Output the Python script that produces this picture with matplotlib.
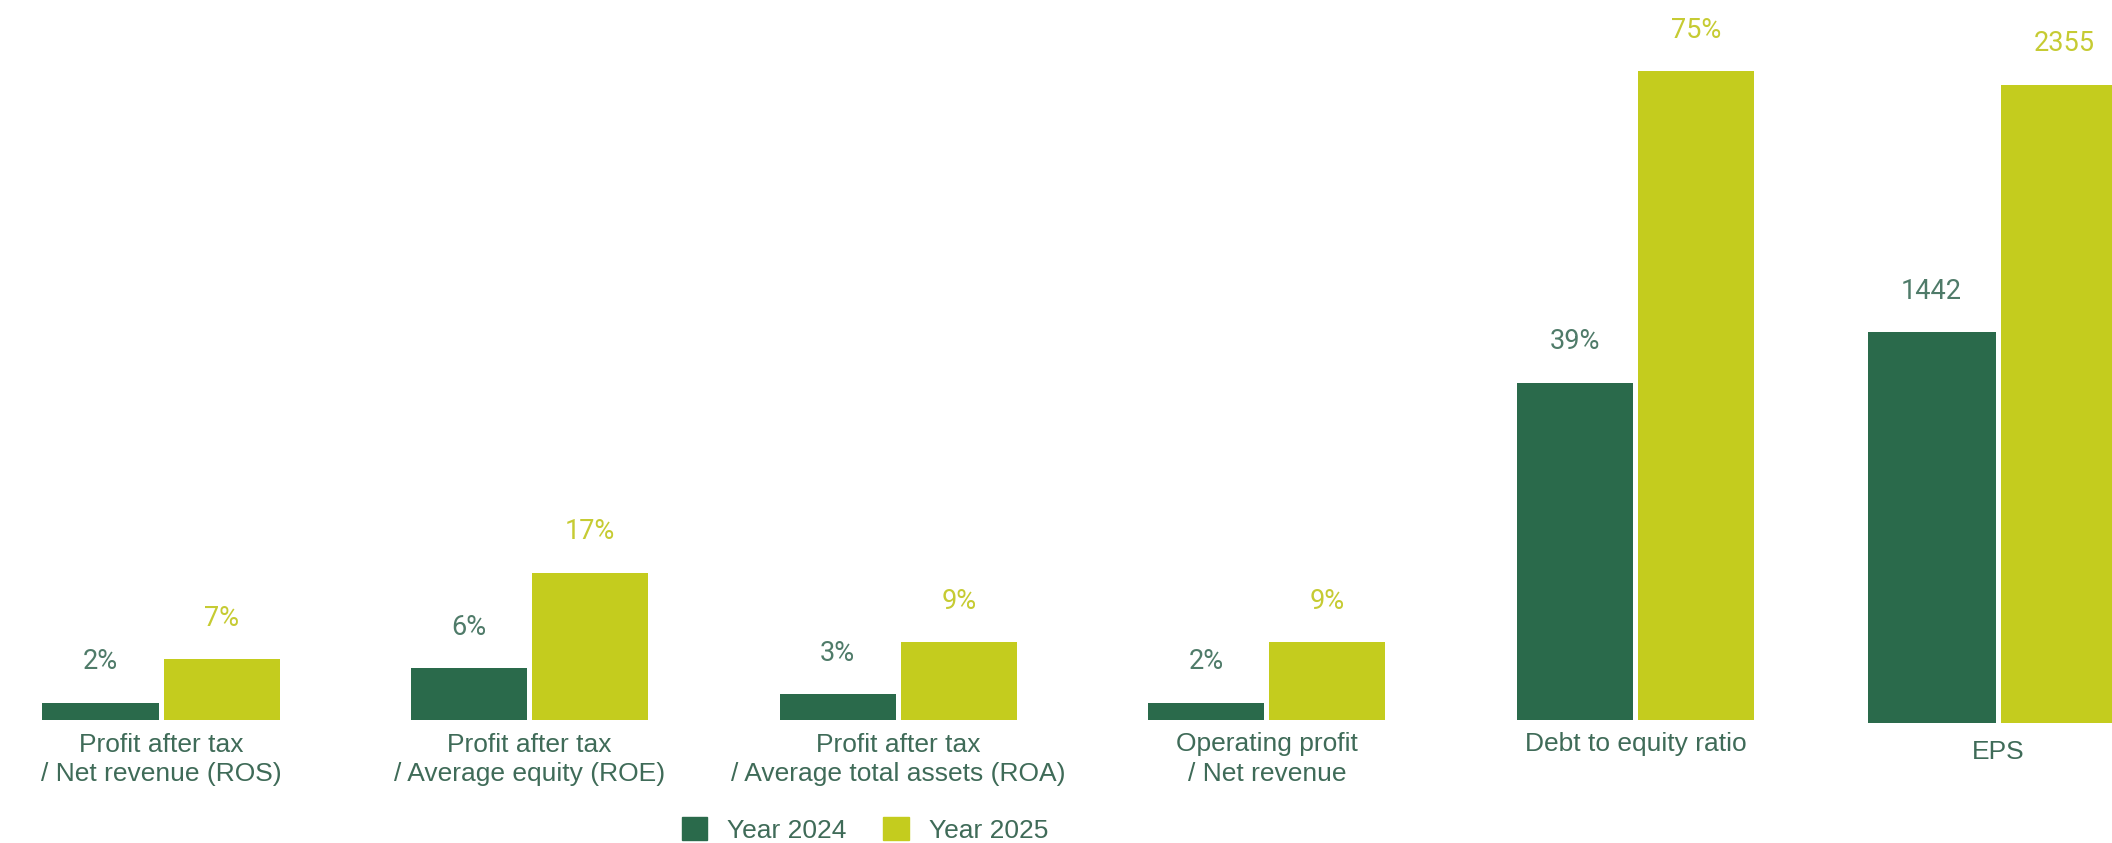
import matplotlib.pyplot as plt
from matplotlib.patches import Patch

plt.rcParams['font.family'] = ['Roboto', 'DejaVu Sans']

# ratios shown in percent, EPS drawn on its own scale
ratio_names = ['Profit after tax\n/ Net revenue (ROS)',
               'Profit after tax\n/ Average equity (ROE)',
               'Profit after tax\n/ Average total assets (ROA)',
               'Operating profit\n/ Net revenue',
               'Debt to equity ratio']
ratio_2024 = [2, 6, 3, 2, 39]
ratio_2025 = [7, 17, 9, 9, 75]

eps_name = 'EPS'
eps_2024 = 1442
eps_2025 = 2355

years = ['Year 2024', 'Year 2025']

DARK = '#2a6a4b'
LIGHT = '#c4cc1e'
DARK_TXT = '#4f7b69'
LIGHT_TXT = '#c6cb33'
CAT_TXT = '#3f6b58'
CAT_FONT = ['Liberation Sans', 'DejaVu Sans']

W, H, DPI = 2112, 843, 100
fig = plt.figure(figsize=(W / DPI, H / DPI), dpi=DPI)

step = 368.6          # px between group centres
first = 161           # px, centre of first group
bar_w = 116 / step
eps_w = 128 / step
gap = 5 / step


def make_axes(bottom_px, center0_px):
    ax = fig.add_axes([0, (H - bottom_px) / H, 1, bottom_px / H])
    ax.set_xlim(-center0_px / step, (W - center0_px) / step)
    for s in ax.spines.values():
        s.set_visible(False)
    ax.set_yticks([])
    ax.tick_params(axis='x', length=0, pad=9)
    ax.patch.set_alpha(0)
    return ax


def label(ax, rect, text, color):
    ax.annotate(text, (rect.get_x() + rect.get_width() / 2, rect.get_height()),
                xytext=(0, 29.5), textcoords='offset points',
                ha='center', va='center', fontsize=19.5, color=color)


ax = make_axes(720, first)
ax.set_ylim(0, 720 / 8.65)
xs = list(range(len(ratio_names)))
b1 = ax.bar([x - (bar_w + gap) / 2 for x in xs], ratio_2024, bar_w, color=DARK)
b2 = ax.bar([x + (bar_w + gap) / 2 for x in xs], ratio_2025, bar_w, color=LIGHT)
for r, v in zip(b1, ratio_2024):
    label(ax, r, f'{v}%', DARK_TXT)
for r, v in zip(b2, ratio_2025):
    label(ax, r, f'{v}%', LIGHT_TXT)
ax.set_xticks(xs)
ax.set_xticklabels(ratio_names, linespacing=1.28, family=CAT_FONT,
                   fontsize=19, color=CAT_TXT)

ax_eps = make_axes(723, 1998 - 5 * step)
ax_eps.set_ylim(0, 723 / 0.271)
e1 = ax_eps.bar(5 - (eps_w + gap) / 2, eps_2024, eps_w, color=DARK)
e2 = ax_eps.bar(5 + (eps_w + gap) / 2, eps_2025, eps_w, color=LIGHT)
label(ax_eps, e1[0], f'{eps_2024}', DARK_TXT)
label(ax_eps, e2[0], f'{eps_2025}', LIGHT_TXT)
ax_eps.set_xticks([5])
ax_eps.set_xticklabels([eps_name], family=CAT_FONT, fontsize=19, color=CAT_TXT)
ax_eps.tick_params(axis='x', pad=12)

handles = [Patch(color=DARK, label=years[0]), Patch(color=LIGHT, label=years[1])]
leg = fig.legend(handles=handles, loc='center', bbox_to_anchor=(865 / W, 13 / H),
                 ncol=2, frameon=False, prop={'family': CAT_FONT, 'size': 19},
                 handlelength=0.98, handleheight=0.98, handletextpad=0.75,
                 columnspacing=1.4, borderaxespad=0)
for t in leg.get_texts():
    t.set_color(CAT_TXT)

fig.savefig('out.png', dpi=DPI)
